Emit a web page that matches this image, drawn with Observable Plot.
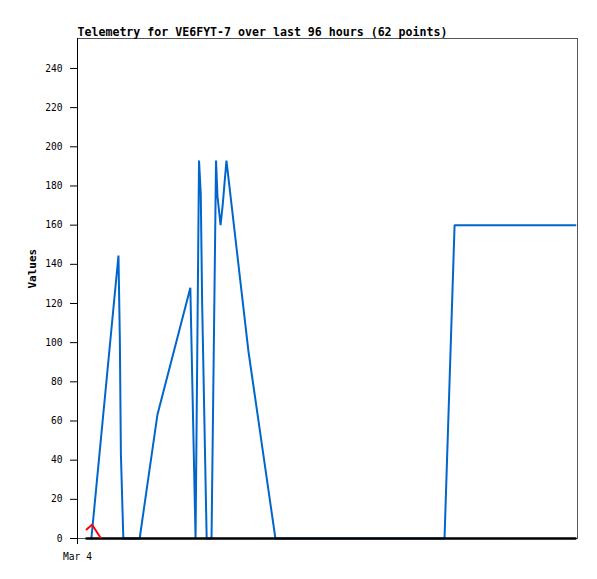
<!DOCTYPE html>
<html>
<head>
<meta charset="utf-8">
<script src="https://cdn.jsdelivr.net/npm/d3@7"></script>
<script src="https://cdn.jsdelivr.net/npm/@observablehq/plot@0.6"></script>
<style>
  body { margin: 0; background: #fff; }
</style>
</head>
<body>
<div id="chart"></div>
<script>
const titleText = "Telemetry for VE6FYT-7 over last 96 hours (62 points)";
const yLabel = "Values";
const dayLabel = "Mar 4";
const dayStart = "00:00";
const dayEnd = "24:00";

// series 1 (blue)
const blueTimes = ["00:40","01:58","02:02","02:05","02:12","02:59","03:50","05:25","05:40","05:50","05:55","05:59","06:12","06:14","06:26","06:39","06:43","06:52","06:58","07:09","08:12","09:30","17:37","18:06","23:54"];
const blueValues = [0,144.5,101,43,0,0,63,128,0,193,176,120,0,0,0,193,175,160,170,193,96,0,0,160,160];

// series 2 (red)
const redTimes = ["00:26","00:42","01:06"];
const redValues = [4.6,7,0.5];

// series 3 (black)
const blackTimes = ["00:26","23:54"];
const blackValues = [0,0];

const yTicks = [0,20,40,60,80,100,120,140,160,180,200,220,240];
const yMax = 255.3;

function toDate(t) {
  const [h, m] = t.split(":").map(Number);
  return new Date(Date.UTC(2024, 2, 4, 0, 0) + (h * 60 + m) * 60000);
}
const mk = (times, values) => times.map((t, i) => ({t: toDate(t), v: values[i]}));
const blue = mk(blueTimes, blueValues);
const red = mk(redTimes, redValues);
const black = mk(blackTimes, blackValues);
const x0 = toDate(dayStart), x1 = toDate(dayEnd);

const font = "'DejaVu Sans Mono', monospace";

const chart = Plot.plot({
  width: 597,
  height: 579,
  marginLeft: 77,
  marginRight: 20,
  marginTop: 38,
  marginBottom: 41,
  style: {fontFamily: font, fontSize: "9.6px", background: "#fff", color: "#000"},
  x: {type: "utc", domain: [x0, x1]},
  y: {domain: [0, yMax]},
  marks: [
    Plot.frame({stroke: "#555", strokeWidth: 1}),
    Plot.ruleX([x0], {stroke: "#000", strokeWidth: 1}),
    Plot.axisY({ticks: yTicks, tickSize: 7, tickPadding: 8, label: null, stroke: "#000", fill: "#000"}),
    Plot.axisX({ticks: [x0], tickFormat: () => dayLabel, tickSize: 6, tickPadding: 9, label: null, stroke: "#000", fill: "#000"}),
    Plot.line(blue, {x: "t", y: "v", stroke: "#0066cc", strokeWidth: 2, strokeLinejoin: "miter"}),
    Plot.line(black, {x: "t", y: "v", stroke: "#000", strokeWidth: 2.5}),
    Plot.line(red, {x: "t", y: "v", stroke: "#ff0000", strokeWidth: 2}),
    Plot.text([yLabel], {frameAnchor: "left", dx: -45, rotate: -90, fontWeight: "bold", fontSize: 11, fill: "#000"}),
    Plot.text([titleText], {frameAnchor: "top-left", textAnchor: "start", lineAnchor: "bottom", dy: -3, fontWeight: "bold", fontSize: 11.6, fill: "#000"})
  ]
});
document.getElementById("chart").appendChild(chart);
</script>
</body>
</html>
